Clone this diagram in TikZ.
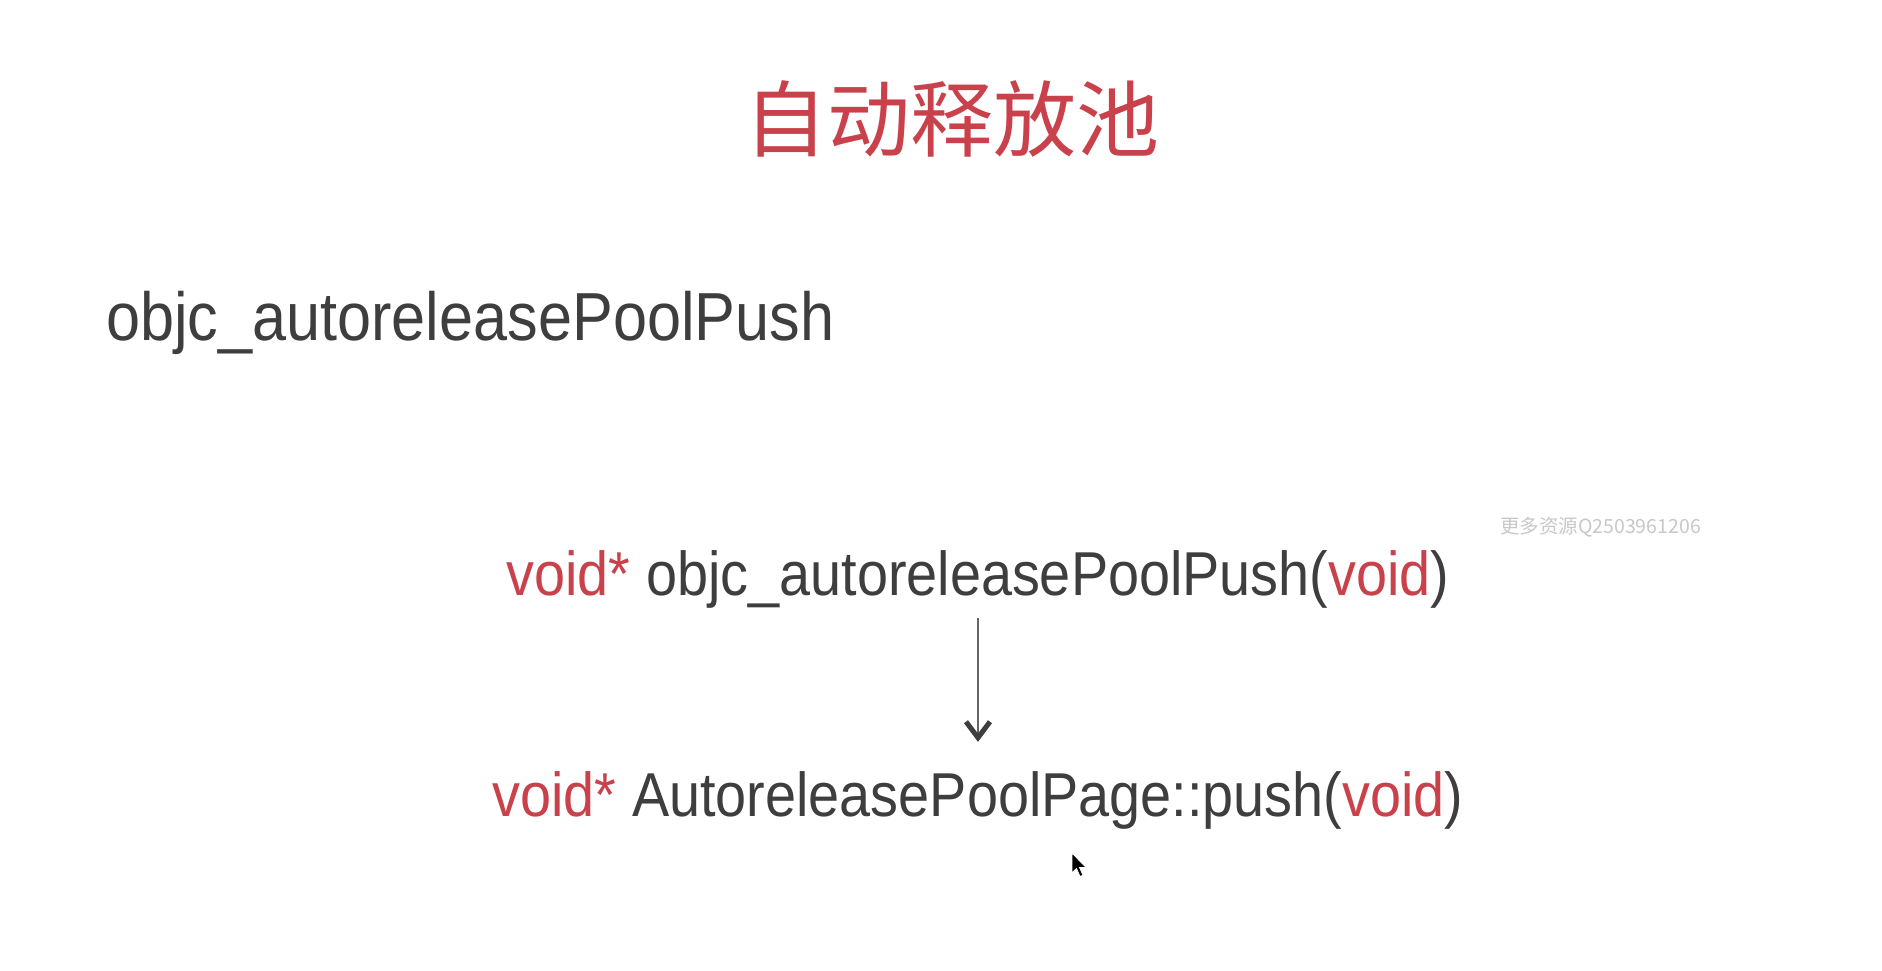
\documentclass[tikz,border=0pt]{standalone}
\usepackage{fontspec}
\setmainfont{Liberation Sans}[FakeStretch=0.9]
\newfontfamily\cjk{Noto Sans CJK SC}
\usetikzlibrary{arrows.meta}
\definecolor{slidered}{RGB}{200,65,75}
\definecolor{slidegray}{RGB}{62,62,62}
\definecolor{markgray}{RGB}{200,200,200}
\newcommand{\kw}[1]{\textcolor{slidered}{#1}}

\begin{document}
\begin{tikzpicture}[
  x=1pt, y=-1pt,
  title text/.style={anchor=base, inner sep=0pt, text=slidered, font=\cjk\fontsize{83}{90}\selectfont},
  code text/.style={anchor=base, inner sep=0pt, text=slidegray, font=\fontsize{62}{70}\selectfont},
  call arrow/.style={draw=slidegray!80, line width=2.2pt, -{Straight Barb[length=16pt, width=24pt, line width=5pt, color=slidegray]}},
  watermark/.style={anchor=base west, inner sep=0pt, text=markgray, font=\cjk\fontsize{19.5}{22}\selectfont}
]
  % Fix the page size
  \useasboundingbox[fill=white] (0,0) rectangle (1882,970);

  % Title of the slide
  \node[title text] (title) at (952,150) {自动释放池};

  % Function name on the left
  \node[code text, anchor=base west, font=\fontsize{68}{75}\selectfont] (pushname) at (106,340) {objc\_autoreleasePoolPush};

  % The C entry point and the C++ method it calls
  \node[code text] (cfunc) at (978,595) {\kw{void*} objc\_autoreleasePoolPush(\kw{void})};
  \node[code text] (cppfunc) at (978,816) {\kw{void*} AutoreleasePoolPage::push(\kw{void})};

  % Call arrow between them
  \draw[call arrow, shorten <=10pt, shorten >=29pt] (cfunc.south) -- (cppfunc.north);

  % Watermark on the right
  \node[watermark] (qq) at (1500,533) {更多资源Q2503961206};

  % Mouse pointer
  \fill[black, draw=white, line width=0.8pt] (1072,853) -- ++(0,20) -- ++(4.5,-4.5)
    -- ++(3.5,8) -- ++(3,-1.3) -- ++(-3.5,-7.8) -- ++(6.5,0) -- cycle;

\end{tikzpicture}
\end{document}
